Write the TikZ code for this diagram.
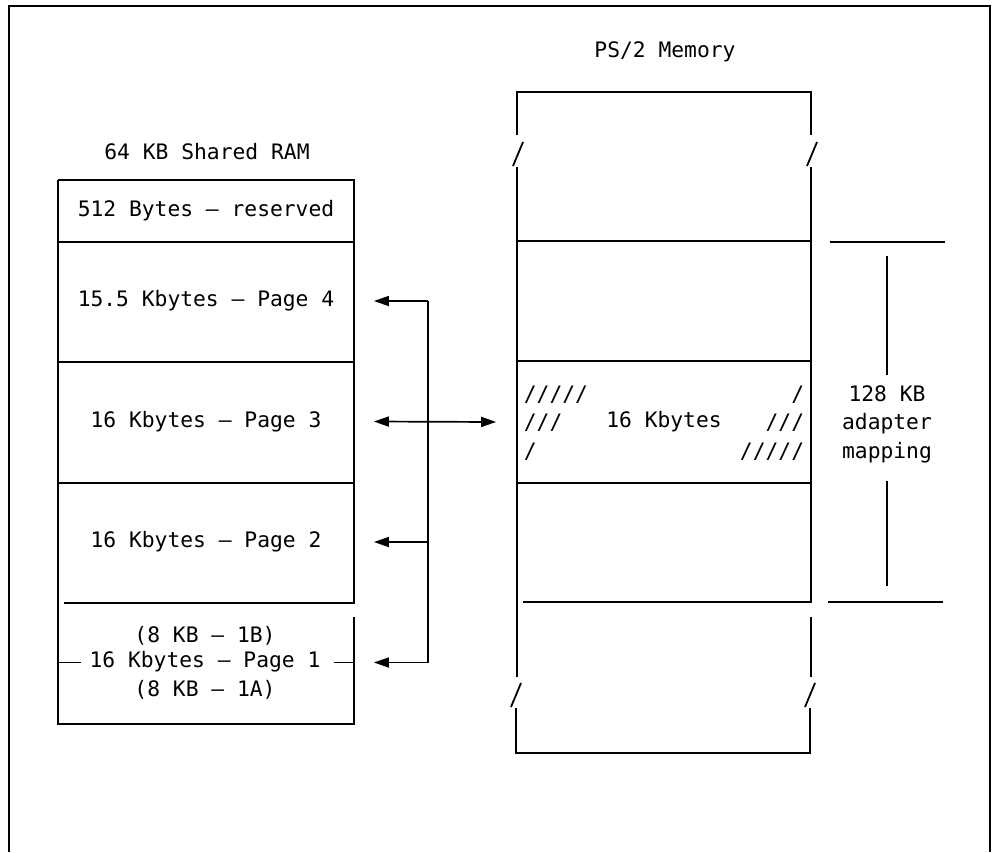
\documentclass[tikz,border=0pt]{standalone}
\usepackage{fontspec}
\setmainfont{DejaVu Sans Mono}
\usetikzlibrary{arrows.meta}
\begin{document}
\begin{tikzpicture}[x=1pt,y=-1pt,line width=1.8pt,
  every node/.style={font=\fontsize{21.3}{28.5}\selectfont,inner sep=0pt,align=center},
  lbox/.style={minimum width=294pt,minimum height=#1},
  rbox/.style={minimum width=294pt,minimum height=#1},
  arr/.style={-{Triangle[length=15pt,width=10pt]},line width=1.7pt},
  darr/.style={{Triangle[length=15pt,width=10pt]}-{Triangle[length=15pt,width=10pt]},line width=1.7pt}]
\useasboundingbox (0,0) rectangle (995,852);
% frame
\draw (9,852) -- (9,6) -- (990,6) -- (990,852);
% titles
\node (t1) at (207,152) {64 KB Shared RAM};
\node (t2) at (665,52) {PS/2 Memory};
% left box sections
\node[lbox=60pt]  (res) at (206,211)   {512 Bytes – reserved};
\node[lbox=120pt] (p4)  at (206,301)   {15.5 Kbytes – Page 4};
\node[lbox=121pt] (p3)  at (206,421.5) {16 Kbytes – Page 3};
\node[lbox=120pt] (p2)  at (206,542)   {16 Kbytes – Page 2};
\node[lbox=121pt] (p1)  at (206,662.5) {};
\node (p1a) at (205,636) {(8 KB – 1B)};
\node (p1b) at (205,662) {16 Kbytes – Page 1};
\node (p1c) at (205,690) {(8 KB – 1A)};
\draw (res.north west) -- (res.north east) -- (p2.south east) -- ([xshift=6pt]p2.south west);
\draw (res.north west) -- (p1.south west) -- (p1.south east) -- ([yshift=-16pt]p1.north east);
\draw (res.south west) -- (res.south east);
\draw (p4.south west) -- (p4.south east);
\draw (p3.south west) -- (p3.south east);
\draw (p1.west) -- ++(23,0);
\draw (p1.east) -- ++(-20,0);
% right box sections
\node[rbox=150pt] (r0) at (664,167) {};
\node[rbox=120pt] (r1) at (664,302) {};
\node[rbox=120pt] (r2) at (664,422) {16 Kbytes};
\node[rbox=120pt] (r3) at (664,542) {};
\node[rbox=151pt] (r4) at (664,677.5) {};
\draw (517,135) -- (517,92) -- (811,92) -- (811,135);
\draw (513,166) -- (523,142);
\draw (807,166) -- (817,142);
\draw (517,167) -- (517,677);
\draw (811,167) -- (811,602) -- (523,602);
\draw (811,617) -- (811,677);
\draw (511,707) -- (521,683);
\draw (805,707) -- (815,683);
\draw (516,708) -- (516,753) -- (810,753) -- (810,708);
\draw (r1.north west) -- (r1.north east);
\draw (r2.north west) -- (r2.north east);
\draw (r2.south west) -- (r2.south east);
% hatching
\node[anchor=west] (h1) at (523,395) {/////};
\node[anchor=west] (h2) at (523,423) {///};
\node[anchor=west] (h3) at (523,452) {/};
\node[anchor=east] (h4) at (805,395) {/};
\node[anchor=east] (h5) at (805,423) {///};
\node[anchor=east] (h6) at (805,452) {/////};
% 128 KB mapping
\node (map) at (887,424) {128 KB\\adapter\\mapping};
\draw (830,242) -- (945,242);
\draw (828,602) -- (943,602);
\draw (887,256) -- (887,375);
\draw (887,481) -- (887,586);
% bus and arrows
\coordinate (b4) at (428,301);
\coordinate (b1) at (428,662.5);
\coordinate (b2) at (428,542);
\draw[line width=1.7pt] (b4) -- (b1);
\draw[arr] (b4) -- ([xshift=20pt]p4.east);
\draw[arr] (b2) -- ([xshift=20pt]p2.east);
\draw[arr] (b1) -- ([xshift=20pt]p1.east);
\draw[darr] ([xshift=20pt]p3.east) -- ([xshift=-20pt]r2.west);
\end{tikzpicture}
\end{document}
